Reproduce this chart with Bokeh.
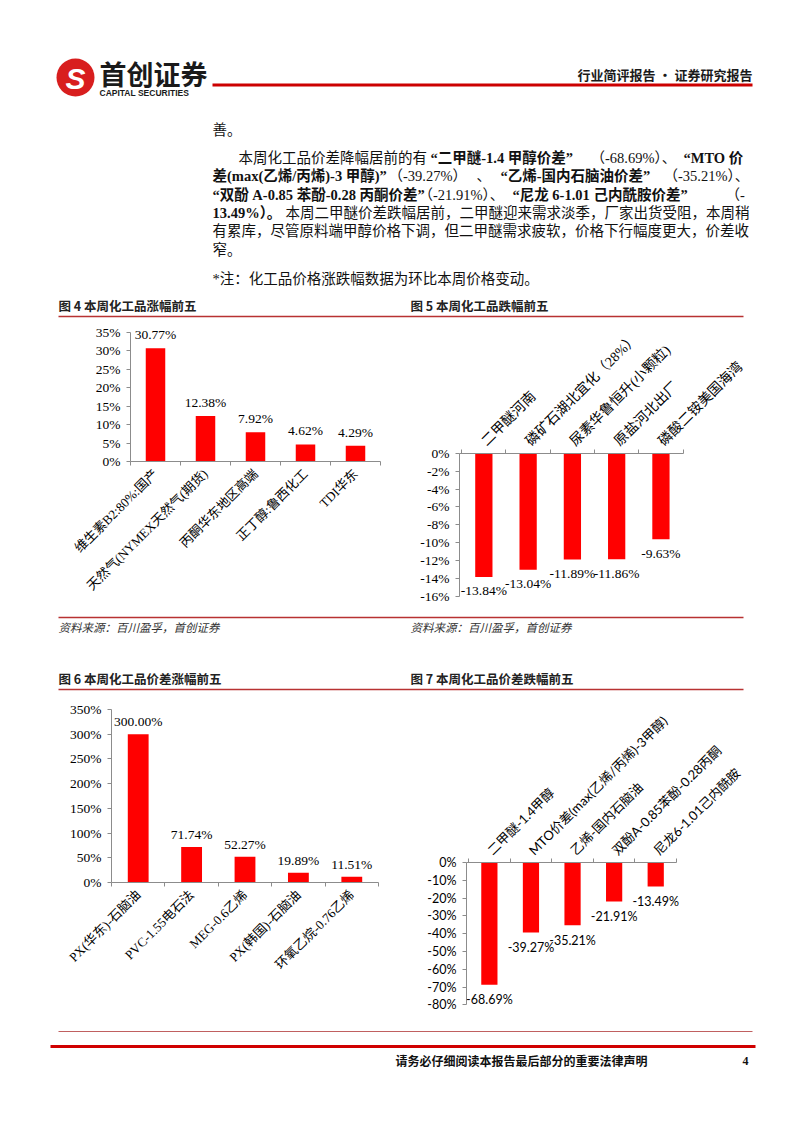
from math import pi
from bokeh.plotting import figure
from bokeh.models import Range1d, FixedTicker, PrintfTickFormatter, Label
from bokeh.layouts import column, row
from bokeh.embed import file_html
from bokeh.resources import INLINE
from bokeh.core.properties import value

SERIF = "Liberation Serif, Noto Sans CJK SC"
SANS = "Noto Sans CJK SC"
LSANS = "Lato, Noto Sans CJK SC"

# ---------------- data ----------------
c4_title = "图 4 本周化工品涨幅前五"
c4_cats = ["维生素B2:80%:国产", "天然气(NYMEX天然气(期货)", "丙酮华东地区高端", "正丁醇:鲁西化工", "TDI华东"]
c4_vals = [30.77, 12.38, 7.92, 4.62, 4.29]
c4_ticks = [0, 5, 10, 15, 20, 25, 30, 35]

c5_title = "图 5 本周化工品跌幅前五"
c5_cats = ["二甲醚河南", "磷矿石湖北宜化（28%）", "尿素华鲁恒升(小颗粒)", "原盐河北出厂", "磷酸二铵美国海湾"]
c5_vals = [-13.84, -13.04, -11.89, -11.86, -9.63]
c5_ticks = [0, -2, -4, -6, -8, -10, -12, -14, -16]

c6_title = "图 6 本周化工品价差涨幅前五"
c6_cats = ["PX(华东)-石脑油", "PVC-1.55电石法", "MEG-0.6乙烯", "PX(韩国)-石脑油", "环氧乙烷-0.76乙烯"]
c6_vals = [300.00, 71.74, 52.27, 19.89, 11.51]
c6_ticks = [0, 50, 100, 150, 200, 250, 300, 350]

c7_title = "图 7 本周化工品价差跌幅前五"
c7_cats = ["二甲醚-1.4甲醇", "MTO价差(max(乙烯/丙烯)-3甲醇)", "乙烯-国内石脑油", "双酚A-0.85苯酚-0.28丙酮", "尼龙6-1.01己内酰胺"]
c7_vals = [-68.69, -39.27, -35.21, -21.91, -13.49]
c7_ticks = [0, -10, -20, -30, -40, -50, -60, -70, -80]

source_text = "资料来源：百川盈孚，首创证券"

# paragraph lines: (y, [(x, text, bold)])
para = [
    (129, [(212, "善。", False)]),
    (157, [(238, "本周化工品价差降幅居前的有", False), (430, "“二甲醚-1.4 甲醇价差”", True),
           (590, "（-68.69%）、", False), (683, "“MTO 价", True)]),
    (175, [(212, "差(max(乙烯/丙烯)-3 甲醇)”", True), (388, "（-39.27%）", False), (476, "、", False),
           (500, "“乙烯-国内石脑油价差”", True), (663, "（-35.21%）、", False)]),
    (194, [(212, "“双酚 A-0.85 苯酚-0.28 丙酮价差”", True), (418, "（-21.91%）、", False),
           (512, "“尼龙 6-1.01 己内酰胺价差”", True), (725, "（-", False)]),
    (212, [(212, "13.49%）。", True), (285, "本周二甲醚价差跌幅居前，二甲醚迎来需求淡季，厂家出货受阻，本周稍", False)]),
    (230, [(212, "有累库，尽管原料端甲醇价格下调，但二甲醚需求疲软，价格下行幅度更大，价差收", False)]),
    (249, [(212, "窄。", False)]),
    (278, [(212, "*注：化工品价格涨跌幅数据为环比本周价格变动。", False)]),
]

LINE_RED = "#B83232"


def decor(x0, x1, y0, y1):
    p = figure(width=x1 - x0, height=y1 - y0, x_range=Range1d(x0, x1), y_range=Range1d(y1, y0),
               output_backend="svg", toolbar_location=None, min_border=0,
               x_axis_type=None, y_axis_type=None)
    p.outline_line_color = None
    p.grid.visible = False
    p.frame_align = False
    return p


def txt(p, x, y, s, size, font=SANS, bold=False, italic=False, color="#111111", align="left"):
    style = "bold italic" if (bold and italic) else ("bold" if bold else ("italic" if italic else "normal"))
    p.text(x=[x], y=[y], text=[s], text_font=value(font), text_font_size=size,
           text_font_style=style, text_color=color, text_align=align, text_baseline="middle")


def chart(cats, vals, ticks, xr, yr, w, h, bl, br, bt, bb, above, font,
          tick_px, cat_px, lab_px, lab_off, standoff):
    p = figure(width=w, height=h, x_range=Range1d(*xr), y_range=Range1d(*yr),
               output_backend="svg", toolbar_location=None,
               x_axis_location="above" if above else "below",
               min_border_left=bl, min_border_right=br, min_border_top=bt, min_border_bottom=bb)
    p.frame_align = False
    p.outline_line_color = None
    p.grid.visible = False
    xs = [1, 2, 3, 4, 5]
    p.vbar(x=xs, top=vals, bottom=0, width=0.39, fill_color="#FF0000", line_color=None)
    for xv, v in zip(xs, vals):
        p.add_layout(Label(x=xv, y=v, text=f"{v:.2f}%", text_align="center",
                           text_baseline="middle", y_offset=lab_off, text_font=font,
                           text_font_size=lab_px, text_color="black"))
    xa = p.xaxis[0]
    xa.ticker = FixedTicker(ticks=xs, minor_ticks=[0.5, 1.5, 2.5, 3.5, 4.5, 5.5])
    xa.bounds = (xr[0], 5.5)
    xa.major_label_overrides = {i + 1: c for i, c in enumerate(cats)}
    xa.major_label_orientation = pi / 4
    xa.major_tick_in = 0
    xa.major_tick_out = 0
    xa.minor_tick_in = 0
    xa.minor_tick_out = 4
    xa.axis_line_color = "#8c8c8c"
    xa.minor_tick_line_color = "#8c8c8c"
    xa.major_label_text_font = font
    xa.major_label_text_font_size = cat_px
    xa.major_label_text_color = "black"
    xa.major_label_standoff = standoff
    ya = p.yaxis[0]
    ya.ticker = FixedTicker(ticks=ticks, minor_ticks=[])
    ya.bounds = (min(ticks), max(ticks))
    ya.formatter = PrintfTickFormatter(format="%d%%")
    ya.major_tick_in = 0
    ya.major_tick_out = 4
    ya.minor_tick_out = 0
    ya.axis_line_color = "#8c8c8c"
    ya.major_tick_line_color = "#8c8c8c"
    ya.major_label_text_font = font
    ya.major_label_text_font_size = tick_px
    ya.major_label_text_color = "black"
    ya.major_label_standoff = 6
    return p


# ---------------- header + text (page y 0..320) ----------------
A = decor(0, 802, 0, 320)
A.circle(x=[75], y=[77], radius=19, fill_color="#D81E1E", line_color=None)
txt(A, 75, 78, "S", "30px", font="Liberation Sans", bold=True, italic=True, color="white", align="center")
txt(A, 99, 73, "首创证券", "27px", bold=True, color="#1a1a1a")
txt(A, 99, 92, "CAPITAL SECURITIES", "8.5px", font="Liberation Sans", bold=True, color="#1a1a1a")
A.line(x=[212, 752], y=[84.5, 84.5], line_color="#CC0000", line_width=3)
txt(A, 752, 74, "行业简评报告 · 证券研究报告", "13px", bold=True, color="#1a1a1a", align="right")
for y, segs in para:
    for x, s, b in segs:
        txt(A, x, y, s, "14.5px", font=SERIF, bold=b, color="#111111")
txt(A, 58, 305, c4_title, "12.5px", bold=True, color="#222222")
txt(A, 410, 305, c5_title, "12.5px", bold=True, color="#222222")
A.line(x=[58, 743], y=[316, 316], line_color=LINE_RED, line_width=1.5)

# ---------------- charts 4 & 5 (page y 320..612) ----------------
C4 = chart(c4_cats, c4_vals, c4_ticks, (0.5, 5.5), (0, 38), 400, 292, 130, 20, 1, 151, False, SERIF,
           "13.5px", "13px", "13.5px", 13.5, 6)
C5 = chart(c5_cats, c5_vals, c5_ticks, (0.45, 5.6), (-16.6, 0), 402, 292, 59, 115, 133, 11, True, SERIF,
           "13.5px", "14px", "13.5px", -14, 6)

# ---------------- middle band (page y 612..692) ----------------
M = decor(0, 802, 612, 692)
M.line(x=[58, 743], y=[617, 617], line_color=LINE_RED, line_width=1.5)
txt(M, 58, 626, source_text, "11.5px", italic=True, color="#333333")
txt(M, 410, 626, source_text, "11.5px", italic=True, color="#333333")
txt(M, 58, 678, c6_title, "12.5px", bold=True, color="#222222")
txt(M, 410, 678, c7_title, "12.5px", bold=True, color="#222222")
M.line(x=[58, 743], y=[689, 689], line_color=LINE_RED, line_width=1.5)

# ---------------- charts 6 & 7 (page y 692..1025) ----------------
C6 = chart(c6_cats, c6_vals, c6_ticks, (0.5, 5.5), (0, 350), 400, 333, 111, 22, 17, 143, False, SERIF,
           "13.5px", "13px", "13.5px", 12.5, 6)
C7 = chart(c7_cats, c7_vals, c7_ticks, (0.45, 5.62), (-82, 0), 402, 333, 66, 121, 170, 17, True, LSANS,
           "12.5px", "13px", "12.5px", -15, 6)

# ---------------- footer (page y 1025..1133) ----------------
F = decor(0, 802, 1025, 1133)
F.line(x=[58, 752], y=[1031, 1031], line_color="#C06060", line_width=1)
F.line(x=[50, 755], y=[1046, 1046], line_color="#D00000", line_width=3)
txt(F, 521, 1060, "请务必仔细阅读本报告最后部分的重要法律声明", "12px", bold=True, color="#111111", align="center")
txt(F, 745, 1060, "4", "12px", font="Liberation Serif", bold=True, color="#111111", align="center")

page = column(A, row(C4, C5), M, row(C6, C7), F)
open("out.html", "w").write(file_html(page, INLINE))
